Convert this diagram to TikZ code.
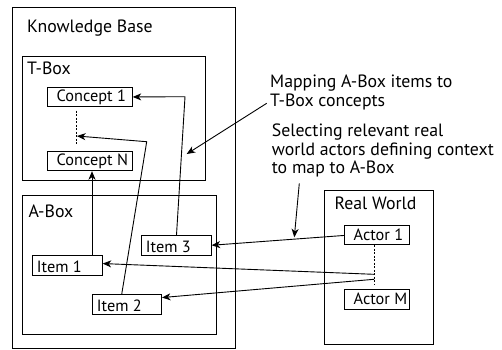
\documentclass[tikz,border=0pt]{standalone}
\usepackage{fontspec}
\setmainfont{PT Sans}
\usetikzlibrary{arrows.meta,calc}
\begin{document}
\begin{tikzpicture}[x=1pt,y=-1pt,
  frame/.style={draw,line width=1pt},
  itembox/.style={draw,line width=1pt,minimum height=19.5pt,inner sep=0pt,anchor=north west},
  txt/.style={font=\fontsize{17.8}{18.5}\selectfont,inner sep=0pt,anchor=base west},
  btxt/.style={font=\fontsize{16.3}{18}\selectfont,inner sep=0pt,anchor=base west},
  conn/.style={line width=0.9pt,-{Stealth[length=8.5pt,width=7pt,inset=2.5pt]}},
  dots/.style={line width=0.9pt,dash pattern=on 2pt off 1.5pt}]
\useasboundingbox (0,0) rectangle (502,349);
% Knowledge base
\draw[frame] (12.7,7) rectangle (235,348);
\node[txt] (kbt) at (27,32.3) {Knowledge Base};
% T-Box
\draw[frame] (22.7,56.7) rectangle (205,180.7);
\node[txt] (tbt) at (27,74) {T-Box};
\node[itembox,minimum width=85pt] (c1) at (46.7,86.7) {};
\node[btxt] (c1t) at (56.5,101) {Concept 1};
\node[itembox,minimum width=85pt] (cn) at (46.7,150.7) {};
\node[btxt] (cnt) at (56.5,165.3) {Concept N};
\coordinate (ctop) at (76.7,110.7);
\coordinate (cbot) at (76.7,145.7);
\draw[dots] (ctop) -- (cbot);
\coordinate (cmid) at (77,136);
% A-Box
\draw[frame] (22.7,195) rectangle (216,334);
\node[txt] (abt) at (28.3,217.7) {A-Box};
\node[itembox,minimum width=69.4pt] (i3) at (141.3,235) {};
\node[btxt] (i3t) at (145.7,252.2) {Item 3};
\node[itembox,minimum width=69.7pt] (i1) at (32,255) {};
\node[btxt] (i1t) at (36.7,272.2) {Item 1};
\node[itembox,minimum width=69.3pt] (i2) at (91.7,294.3) {};
\node[btxt] (i2t) at (96.7,311.5) {Item 2};
% Real world
\draw[frame] (324.3,190.7) rectangle (433.3,344);
\node[txt] (rwt) at (334.3,209.3) {Real World};
\node[itembox,minimum width=64.7pt] (a1) at (344,224.7) {};
\node[btxt] (a1t) at (353.5,240.7) {Actor 1};
\node[itembox,minimum width=64.7pt] (am) at (344,289.3) {};
\node[btxt] (amt) at (353.5,304.5) {Actor M};
\coordinate (atop) at (374,245);
\coordinate (abot) at (374,285);
\draw[dots] (atop) -- (abot);
\coordinate (ad1) at (374,274.3);
\coordinate (ad2) at (374,279.3);
% annotations
\node[txt] (m1) at (270,87.7) {Mapping A-Box items to};
\node[txt] (m2) at (270,106.7) {T-Box concepts};
\node[txt] (s1) at (271.7,136.7) {Selecting relevant real};
\node[txt] (s2) at (271.7,155) {world actors defining context};
\node[txt] (s3) at (271.7,173.3) {to map to A-Box};
% connectors
\coordinate (b1) at (185,96.7);
\draw[conn] (i3.north) -- (b1) -- (c1.east);
\coordinate (b2) at (146.7,141.7);
\draw[conn] ($(i2.north west)+(30,0)$) -- (b2) -- (cmid);
\draw[conn] ($(i1.north west)+(60,0)$) -- ($(cn.south west)+(45.3,0)$);
\draw[conn] ($(a1.west)+(0,0.5)$) -- ($(i3.east)+(0,0)$);
\draw[conn] (ad1) -- ($(i1.east)+(0,-1.7)$);
\draw[conn] (ad2) -- ($(i2.east)+(0,-7)$);
\coordinate (m0) at (266.7,103.3);
\coordinate (m9) at (186.7,154);
\draw[conn] (m0) -- (m9);
\coordinate (s0) at (299.3,183.3);
\coordinate (s9) at (294.3,237.3);
\draw[conn] (s0) -- (s9);
\end{tikzpicture}
\end{document}
